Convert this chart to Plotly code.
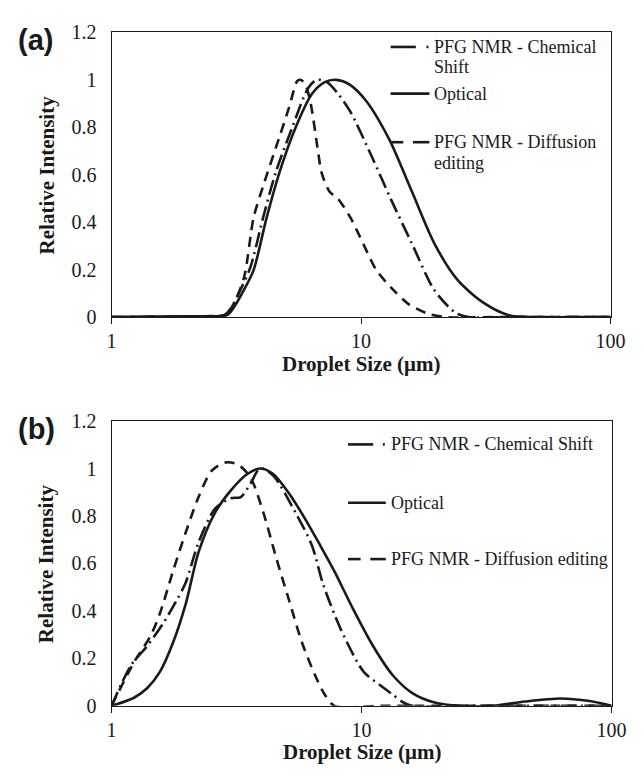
import plotly.graph_objects as go

# ---------------- data ----------------
# Panel (a)
a_opt_x = [1, 1.5, 2, 2.5, 2.92, 3.4, 3.71, 4.18, 4.71, 5.47, 6.35, 7.15, 7.95, 9.0, 10.5, 12.98, 16.0, 19.7, 24.3, 30.8, 39.1, 50, 70, 100]
a_opt_y = [0, 0.002, 0.003, 0.004, 0.01, 0.117, 0.199, 0.418, 0.61, 0.80, 0.94, 0.99, 1.0, 0.98, 0.91, 0.748, 0.528, 0.309, 0.158, 0.062, 0.008, 0, 0, 0]

a_cs_x = [1, 2, 2.85, 3.3, 3.6, 4.05, 4.55, 5.3, 6.15, 6.64, 7.3, 8.1, 9.08, 11.0, 13.2, 16.0, 19.4, 22.2, 24.3, 27, 40, 100]
a_cs_y = [0, 0.003, 0.01, 0.12, 0.21, 0.42, 0.61, 0.80, 0.967, 1.0, 0.99, 0.94, 0.864, 0.68, 0.494, 0.309, 0.123, 0.048, 0.014, 0, 0, 0]

a_de_x = [1, 2, 2.85, 3.1, 3.4, 3.71, 4.06, 4.71, 5.15, 5.55, 5.72, 5.95, 6.25, 6.74, 6.94, 7.48, 8.06, 9.08, 10.2, 11.5, 13.4, 15.5, 18.6, 22, 35, 100]
a_de_y = [0, 0.003, 0.01, 0.06, 0.17, 0.42, 0.556, 0.76, 0.885, 0.995, 1.0, 0.985, 0.912, 0.69, 0.61, 0.528, 0.50, 0.418, 0.309, 0.199, 0.117, 0.055, 0.014, 0, 0, 0]

# Panel (b)
b_opt_x = [1, 1.23, 1.39, 1.56, 1.76, 1.98, 2.23, 2.59, 3.0, 3.49, 3.93, 4.43, 5.13, 5.96, 6.8, 7.79, 9.3, 11.1, 13.3, 15.9, 19.6, 24.8, 33.5, 45, 62.5, 81.7, 100]
b_opt_y = [0, 0.034, 0.075, 0.143, 0.266, 0.43, 0.649, 0.813, 0.908, 0.977, 1.0, 0.977, 0.895, 0.786, 0.68, 0.567, 0.403, 0.253, 0.13, 0.055, 0.014, 0.0, 0.0, 0.018, 0.031, 0.02, 0]

b_cs_x = [1, 1.195, 1.39, 1.61, 1.81, 1.98, 2.23, 2.59, 3.0, 3.29, 3.59, 3.93, 4.43, 5.45, 6.33, 7.02, 8.27, 10.2, 11.8, 13.3, 14.5, 15.9, 25, 50, 100]
b_cs_y = [0, 0.17, 0.253, 0.348, 0.44, 0.52, 0.69, 0.83, 0.875, 0.88, 0.936, 1.0, 0.97, 0.813, 0.676, 0.512, 0.321, 0.143, 0.089, 0.048, 0.018, 0, 0, 0, 0]

b_de_x = [1, 1.23, 1.43, 1.56, 1.76, 1.98, 2.23, 2.51, 2.83, 3.19, 3.59, 4.05, 4.56, 5.13, 5.78, 6.51, 7.12, 7.79, 12, 30, 100]
b_de_y = [0, 0.184, 0.294, 0.389, 0.567, 0.731, 0.881, 0.99, 1.025, 1.018, 0.963, 0.813, 0.622, 0.444, 0.266, 0.13, 0.048, 0, 0, 0, 0]

x_tickvals = [1, 10, 100]
x_ticktext = ["1", "10", "100"]
series_names = ["PFG NMR - Chemical Shift", "Optical", "PFG NMR - Diffusion editing"]
legend_a_lines = [["PFG NMR - Chemical", "Shift"], ["Optical"], ["PFG NMR - Diffusion", "editing"]]
legend_b_lines = [["PFG NMR - Chemical Shift"], ["Optical"], ["PFG NMR - Diffusion editing"]]
x_title = "Droplet Size (\u03bcm)"
y_title = "Relative Intensity"
panel_labels = ["(a)", "(b)"]

# ---------------- styling ----------------
W, H = 644, 780
SERIF = "Liberation Serif"
SANS = "Liberation Sans"
BLACK = "#1a1a1a"
DASHDOT = "15px,5px,2px,5px"
DASHED = "10px,7px"
LW = 2.6

def px(x):
    return x / W

def py(y):
    return 1 - y / H

fig = go.Figure()

panels = [
    dict(xa="x", ya="y", data=[(a_cs_x, a_cs_y, DASHDOT), (a_opt_x, a_opt_y, "solid"), (a_de_x, a_de_y, DASHED)]),
    dict(xa="x2", ya="y2", data=[(b_cs_x, b_cs_y, DASHDOT), (b_opt_x, b_opt_y, "solid"), (b_de_x, b_de_y, DASHED)]),
]
for p in panels:
    for (xs, ys, dash), name in zip(p["data"], series_names):
        fig.add_trace(go.Scatter(
            x=xs, y=ys, mode="lines", name=name, xaxis=p["xa"], yaxis=p["ya"],
            line=dict(color=BLACK, width=LW, dash=dash, shape="spline", smoothing=0.8),
            showlegend=False,
        ))

# plot area pixel boxes: (left, right, top, bottom)
boxes = [(110, 625, 22, 315), (110, 626, 422, 715)]

axis_common_x = dict(
    type="log", range=[0, 2], tickvals=x_tickvals, ticktext=x_ticktext,
    ticks="outside", ticklen=6, tickwidth=1.2, tickcolor=BLACK,
    showline=True, linecolor=BLACK, linewidth=1.2, mirror=True,
    showgrid=False, zeroline=False,
    tickfont=dict(family=SERIF, size=20, color=BLACK),
    ticklabelstandoff=0,
)
axis_common_y = dict(
    range=[0, 1.2], dtick=0.2, tick0=0, ticks="",
    showline=True, linecolor=BLACK, linewidth=1.2, mirror=True,
    showgrid=False, zeroline=False,
    tickfont=dict(family=SERIF, size=20, color=BLACK),
    ticklabelstandoff=10,
)

l, r, t, b = boxes[0]
fig.update_layout(
    xaxis=dict(domain=[px(l), px(r)], anchor="y", **axis_common_x),
    yaxis=dict(domain=[py(b), py(t)], anchor="x", **axis_common_y),
)
l, r, t, b = boxes[1]
fig.update_layout(
    xaxis2=dict(domain=[px(l), px(r)], anchor="y2", **axis_common_x),
    yaxis2=dict(domain=[py(b), py(t)], anchor="x2", **axis_common_y),
)

annotations = []
shapes = []

for (l, r, t, b), lab in zip(boxes, panel_labels):
    annotations.append(dict(x=px((l + r) / 2), y=py(b + 48), xref="paper", yref="paper",
                            text="<b>" + x_title + "</b>", showarrow=False,
                            font=dict(family=SERIF, size=21, color=BLACK),
                            xanchor="center", yanchor="middle"))
    annotations.append(dict(x=px(43), y=py((t + b) / 2), xref="paper", yref="paper",
                            text="<b>" + y_title + "</b>", showarrow=False, textangle=-90,
                            font=dict(family=SERIF, size=21, color=BLACK),
                            xanchor="center", yanchor="middle"))
    annotations.append(dict(x=px(11), y=py(t + 8), xref="paper", yref="paper",
                            text="<b>" + lab + "</b>", showarrow=False,
                            font=dict(family=SANS, size=29, color=BLACK),
                            xanchor="left", yanchor="middle"))

def legend(entries, x0, x1, xt, ys, line_gap):
    dashes = [DASHDOT, "solid", DASHED]
    for lines, y, dash in zip(entries, ys, dashes):
        if dash == DASHDOT:
            shapes.append(dict(type="line", xref="paper", yref="paper",
                               x0=px(x0), x1=px(x0 + 26), y0=py(y), y1=py(y),
                               line=dict(color=BLACK, width=LW)))
            shapes.append(dict(type="line", xref="paper", yref="paper",
                               x0=px(x1 - 3), x1=px(x1 - 1), y0=py(y), y1=py(y),
                               line=dict(color=BLACK, width=LW)))
        elif dash == DASHED:
            shapes.append(dict(type="line", xref="paper", yref="paper",
                               x0=px(x0), x1=px(x0 + 13), y0=py(y), y1=py(y),
                               line=dict(color=BLACK, width=LW)))
            shapes.append(dict(type="line", xref="paper", yref="paper",
                               x0=px(x0 + 23), x1=px(x1), y0=py(y), y1=py(y),
                               line=dict(color=BLACK, width=LW)))
        else:
            shapes.append(dict(type="line", xref="paper", yref="paper",
                               x0=px(x0), x1=px(x1), y0=py(y), y1=py(y),
                               line=dict(color=BLACK, width=LW)))
        for k, txt in enumerate(lines):
            annotations.append(dict(x=px(xt), y=py(y + k * line_gap), xref="paper", yref="paper",
                                    text=txt, showarrow=False,
                                    font=dict(family=SERIF, size=18, color=BLACK),
                                    xanchor="left", yanchor="middle"))

legend(legend_a_lines, 398, 438, 441, [37, 85, 135], 21)
legend(legend_b_lines, 354, 393, 396, [446, 506, 564], 21)

fig.update_layout(
    width=W, height=H,
    margin=dict(l=0, r=0, t=0, b=0),
    paper_bgcolor="white", plot_bgcolor="white",
    showlegend=False,
    font=dict(family=SERIF, color=BLACK),
    annotations=annotations, shapes=shapes,
)

fig.write_html("out.html")
